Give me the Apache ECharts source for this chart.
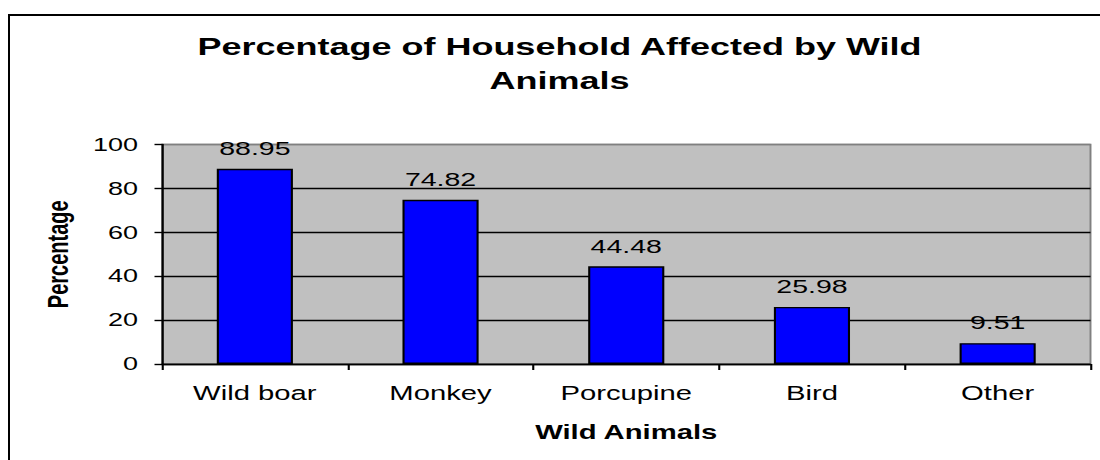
<!DOCTYPE html>
<html>
<head>
<meta charset="utf-8">
<script src="https://cdn.jsdelivr.net/npm/echarts@6/dist/echarts.min.js"></script>
<style>
  html, body { margin: 0; padding: 0; background: #fff; overflow: hidden; }
  body { position: relative; width: 1100px; height: 460px; }
  /* the chart is laid out narrow and widened 1.5x, so text and marks share the wide look */
  #chart { position: absolute; left: 0; top: 0; width: 733.33px; height: 460px; transform: scaleX(1.5); transform-origin: 0 0; }
  /* outer chart frame; its right and bottom edges run past the page */
  #frame { position: absolute; left: 7.5px; top: 13.5px; width: 1200px; height: 600px;
           border-left: 2.5px solid #000; border-top: 2px solid #000; pointer-events: none; }
</style>
</head>
<body>
<div id="chart"></div>
<div id="frame"></div>
<script>
const categories = ['Wild boar', 'Monkey', 'Porcupine', 'Bird', 'Other'];
const percentages = [88.95, 74.82, 44.48, 25.98, 9.51];
const yTicks = { min: 0, max: 100, interval: 20 };

const FONT = '"Liberation Sans", Arial, sans-serif';

const chart = echarts.init(document.getElementById('chart'), null, { renderer: 'svg' });

chart.setOption({
  animation: false,
  backgroundColor: '#ffffff',
  title: {
    text: 'Percentage of Household Affected by Wild\nAnimals',
    left: 373,
    top: 29.5,
    padding: 0,
    textAlign: 'center',
    textStyle: {
      fontFamily: FONT,
      fontSize: 24,
      fontWeight: 'bold',
      color: '#000',
      lineHeight: 34
    }
  },
  grid: {
    left: 108,
    right: 6,
    top: 144.5,
    bottom: 96,
    show: true,
    backgroundColor: '#c0c0c0',
    borderColor: '#808080',
    borderWidth: 1.3
  },
  xAxis: {
    type: 'category',
    data: categories,
    name: 'Wild Animals',
    nameLocation: 'middle',
    nameGap: 58,
    nameTextStyle: { fontFamily: FONT, fontSize: 19.5, fontWeight: 'bold', color: '#000' },
    axisLine: { show: true, lineStyle: { color: '#000', width: 1.4 } },
    axisTick: { show: true, alignWithLabel: false, length: 6, lineStyle: { color: '#000', width: 1.4 } },
    axisLabel: { fontFamily: FONT, fontSize: 19.5, color: '#000', margin: 19 },
    splitLine: { show: false }
  },
  yAxis: {
    type: 'value',
    min: yTicks.min,
    max: yTicks.max,
    interval: yTicks.interval,
    name: 'Percentage',
    nameLocation: 'middle',
    nameGap: 60,
    nameRotate: 90,
    nameTextStyle: { fontFamily: FONT, fontSize: 20, fontWeight: 'bold', color: '#000' },
    axisLine: { show: true, lineStyle: { color: '#000', width: 1.4 } },
    axisTick: { show: true, inside: false, length: 5, lineStyle: { color: '#000', width: 1.4 } },
    axisLabel: { fontFamily: FONT, fontSize: 18, color: '#000', margin: 16 },
    splitLine: {
      show: true,
      lineStyle: { color: ['#000', '#000', '#000', '#000', '#000', '#808080'], width: 1.4 }
    }
  },
  series: [{
    type: 'bar',
    data: percentages,
    barWidth: '41%',
    itemStyle: { color: '#0000ff', borderColor: '#000', borderWidth: 1.4 },
    label: {
      show: true,
      position: 'top',
      distance: 11,
      fontFamily: FONT,
      fontSize: 19,
      color: '#000',
      formatter: p => p.value.toFixed(2)
    }
  }]
});
</script>
</body>
</html>
